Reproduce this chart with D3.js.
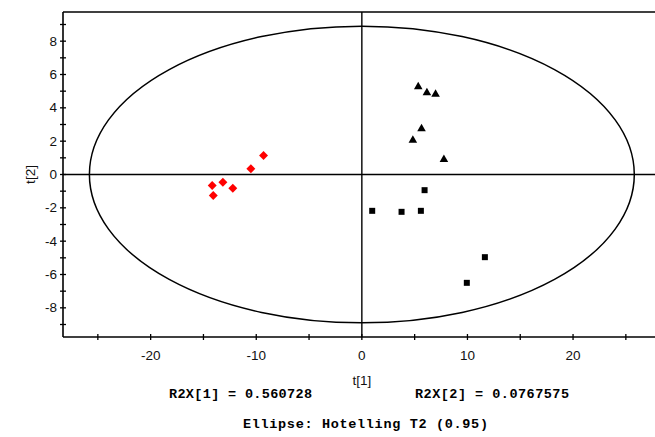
<!DOCTYPE html>
<html>
<head>
<meta charset="utf-8">
<script src="https://cdn.jsdelivr.net/npm/d3@7"></script>
<style>
  body { margin: 0; background: #fff; }
  svg { display: block; }
</style>
</head>
<body>
<svg width="655" height="437"></svg>
<script>
// Score values (t[1], t[2]) per group
const redX = [-14.17, -14.07, -13.16, -12.22, -10.51, -9.31];
const redY = [-0.66, -1.26, -0.46, -0.82, 0.34, 1.14];
const triX = [5.34, 6.16, 6.98, 5.65, 4.83, 7.77];
const triY = [5.26, 4.90, 4.82, 2.74, 2.06, 0.90];
const sqX = [5.94, 0.98, 3.76, 5.59, 11.65, 9.94];
const sqY = [-0.94, -2.18, -2.24, -2.18, -4.96, -6.50];
// Axis ticks
const xLabels = [-20, -10, 0, 10, 20];
const xTicks = [-25, -20, -15, -10, -5, 0, 5, 10, 15, 20, 25];
const yLabels = [-8, -6, -4, -2, 0, 2, 4, 6, 8];
const yTicks = d3.range(-9, 10);
// Hotelling T2 ellipse semi-axes
const ellA = 25.8, ellB = 8.9;

const svg = d3.select("svg");
const pLeft = 63, pTop = 12, pBottom = 337;

const x = d3.scaleLinear().domain([-28.3, 28.3]).range([pLeft, 660.7]);
const y = d3.scaleLinear().domain([-9.75, 9.75]).range([pBottom, pTop]);

// frame: top line, left axis, bottom axis
svg.append("line").attr("x1", pLeft).attr("x2", 655).attr("y1", pTop).attr("y2", pTop)
  .attr("stroke", "#000").attr("stroke-width", 1.6);
svg.append("line").attr("x1", pLeft).attr("x2", pLeft).attr("y1", pTop).attr("y2", pBottom)
  .attr("stroke", "#000").attr("stroke-width", 1.6);
svg.append("line").attr("x1", pLeft).attr("x2", 655).attr("y1", pBottom).attr("y2", pBottom)
  .attr("stroke", "#000").attr("stroke-width", 1.6);

// ticks crossing the axes
svg.selectAll(".xt").data(xTicks).enter().append("line")
  .attr("x1", d => x(d)).attr("x2", d => x(d))
  .attr("y1", pBottom - 3).attr("y2", pBottom + 3)
  .attr("stroke", "#000").attr("stroke-width", 1.3);
svg.selectAll(".yt").data(yTicks).enter().append("line")
  .attr("x1", pLeft - 3).attr("x2", pLeft + 3)
  .attr("y1", d => y(d)).attr("y2", d => y(d))
  .attr("stroke", "#000").attr("stroke-width", 1.3);

const sans = "Liberation Sans, Arial, sans-serif";
svg.selectAll(".xl").data(xLabels).enter().append("text")
  .attr("x", d => x(d)).attr("y", 360)
  .attr("text-anchor", "middle")
  .attr("font-family", sans).attr("font-size", 13.5).attr("fill", "#111")
  .text(d => d);
svg.selectAll(".yl").data(yLabels).enter().append("text")
  .attr("x", 57).attr("y", d => y(d) + 4.5)
  .attr("text-anchor", "end")
  .attr("font-family", sans).attr("font-size", 13.5).attr("fill", "#111")
  .text(d => d);

// zero lines
svg.append("line").attr("x1", x(0)).attr("x2", x(0)).attr("y1", pTop).attr("y2", pBottom)
  .attr("stroke", "#000").attr("stroke-width", 1.4);
svg.append("line").attr("x1", pLeft).attr("x2", 655).attr("y1", y(0)).attr("y2", y(0))
  .attr("stroke", "#000").attr("stroke-width", 1.4);

// ellipse
svg.append("ellipse")
  .attr("cx", x(0)).attr("cy", y(0))
  .attr("rx", x(ellA) - x(0)).attr("ry", y(0) - y(ellB))
  .attr("fill", "none").attr("stroke", "#000").attr("stroke-width", 1.5);

// points
function drawGroup(xs, ys, type, size, color, rot) {
  const pts = xs.map((v, i) => [v, ys[i]]);
  svg.append("g").selectAll("path").data(pts).enter().append("path")
    .attr("transform", d => `translate(${x(d[0])},${y(d[1])}) rotate(${rot || 0})`)
    .attr("d", d3.symbol().type(type).size(size))
    .attr("fill", color);
}
drawGroup(redX, redY, d3.symbolSquare, 40, "#ff0000", 45);
drawGroup(triX, triY, d3.symbolTriangle, 32, "#000");
drawGroup(sqX, sqY, d3.symbolSquare, 36, "#000");

// axis titles
svg.append("text").attr("x", x(0)).attr("y", 385)
  .attr("text-anchor", "middle")
  .attr("font-family", sans).attr("font-size", 13.5).attr("fill", "#111")
  .text("t[1]");
svg.append("text")
  .attr("transform", `translate(35,${y(0)}) rotate(-90)`)
  .attr("text-anchor", "middle")
  .attr("font-family", sans).attr("font-size", 13.5).attr("fill", "#111")
  .text("t[2]");

// footer notes
const mono = "Liberation Mono, Courier New, monospace";
svg.append("text").attr("x", 169).attr("y", 398)
  .attr("font-family", mono).attr("font-size", 13.5).attr("font-weight", "bold")
  .attr("textLength", 143).attr("lengthAdjust", "spacing")
  .text("R2X[1] = 0.560728");
svg.append("text").attr("x", 415).attr("y", 398)
  .attr("font-family", mono).attr("font-size", 13.5).attr("font-weight", "bold")
  .attr("textLength", 154).attr("lengthAdjust", "spacing")
  .text("R2X[2] = 0.0767575");
svg.append("text").attr("x", 243).attr("y", 428)
  .attr("font-family", mono).attr("font-size", 13.5).attr("font-weight", "bold")
  .attr("textLength", 245).attr("lengthAdjust", "spacing")
  .text("Ellipse: Hotelling T2 (0.95)");
</script>
</body>
</html>
